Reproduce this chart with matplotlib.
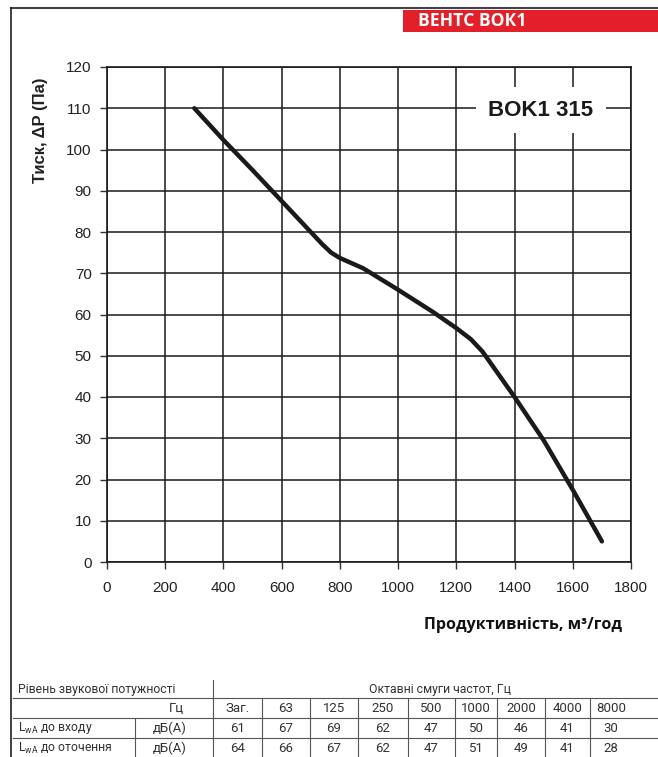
import matplotlib
matplotlib.use("Agg")
import matplotlib.pyplot as plt

# fan curve
airflow = [300, 400, 500, 600, 700, 740, 770, 800, 880, 1000, 1120, 1200, 1250, 1290, 1340, 1400, 1500, 1600, 1700]
pressure = [110, 102.3, 95, 87.5, 80, 77, 75, 73.7, 71.2, 66, 60.6, 56.7, 54, 51, 46, 40, 29.5, 17.5, 5]

x_ticks = [0, 200, 400, 600, 800, 1000, 1200, 1400, 1600, 1800]
y_ticks = list(range(0, 130, 10))

# sound power table
bands = ["Заг.", "63", "125", "250", "500", "1000", "2000", "4000", "8000"]
inlet_db = [61, 67, 69, 62, 47, 50, 46, 41, 30]
ambient_db = [64, 66, 67, 62, 47, 51, 49, 41, 28]

W, H = 658, 757
fig = plt.figure(figsize=(W / 100, H / 100), dpi=100)

# pixel overlay for frame, banner and table
ov = fig.add_axes([0, 0, 1, 1])
ov.set_xlim(0, W)
ov.set_ylim(H, 0)
ov.axis("off")

ov.plot([11, W], [8, 8], color="#444444", lw=1.5)
ov.plot([11, 11], [8, H], color="#222222", lw=1.2)
ov.add_patch(plt.Rectangle((403, 10), W - 403, 22, color="#e3202a", lw=0))
ov.text(418, 21.5, "ВЕНТС ВОК1", color="white", fontsize=12.6, fontweight="bold",
        family="Open Sans", ha="left", va="center")

ov.text(622, 625, "Продуктивність, м³/год", fontsize=11.5, fontweight="bold",
        family="Open Sans", ha="right", va="center", color="#111111")

# table
tcol = "#333333"
lcol = "#555555"
tfont = dict(family="Roboto", fontsize=8.8, color=tcol, va="center")
nfont = dict(family="Roboto", fontsize=9.5, color=tcol, va="center")
seps = [213, 262, 310, 358, 408, 455, 497, 545, 590, 632]
for yy in [698, 718, 738]:
    ov.plot([13, W], [yy, yy], color=lcol, lw=0.8)
ov.plot([213, 213], [680, H], color=lcol, lw=0.8)
for sx in seps[1:-1]:
    ov.plot([sx, sx], [698, H], color=lcol, lw=0.8)
ov.plot([135, 135], [718, H], color=lcol, lw=0.8)

ov.text(18, 689, "Рівень звукової потужності", ha="left", **tfont)
ov.text(440, 689, "Октавні смуги частот, Гц", ha="center", **tfont)
ov.text(176, 708, "Гц", ha="center", **nfont)
ov.text(18, 728, r"L$_{\mathregular{wA}}$ до входу", ha="left", **tfont)
ov.text(18, 748, r"L$_{\mathregular{wA}}$ до оточення", ha="left", **tfont)
ov.text(170, 728, "дБ(А)", ha="center", **nfont)
ov.text(170, 748, "дБ(А)", ha="center", **nfont)
for i, b in enumerate(bands):
    cx = (seps[i] + seps[i + 1]) / 2
    ov.text(cx, 708, b, ha="center", **nfont)
    ov.text(cx, 728, str(inlet_db[i]), ha="center", **nfont)
    ov.text(cx, 748, str(ambient_db[i]), ha="center", **nfont)

# main chart
ax = fig.add_axes([107 / W, (H - 562) / H, 524 / W, 495 / H])
ax.set_xlim(0, 1800)
ax.set_ylim(0, 120)
ax.set_xticks(x_ticks)
ax.set_yticks(y_ticks)
ax.grid(True, color="#1a1a1a", lw=1.1)
ax.set_axisbelow(True)
for s in ax.spines.values():
    s.set_color("#1a1a1a")
    s.set_linewidth(1.2)
ax.tick_params(direction="out", length=5, width=1, color="#333333",
               labelsize=11, labelcolor="#222222", pad=6)
for lab in ax.get_xticklabels() + ax.get_yticklabels():
    lab.set_family("Liberation Sans")
ax.tick_params(axis="x", pad=9)

ax.plot(airflow, pressure, color="#1a1a1a", lw=3.2, solid_capstyle="round",
        solid_joinstyle="round", zorder=3)

ax.text(1490, 109.5, "BOK1 315", fontsize=16, fontweight="bold", family="Liberation Sans",
        ha="center", va="center", color="#1a1a1a", zorder=4,
        bbox=dict(facecolor="white", edgecolor="none", pad=9))

fig.text(40 / W, 1 - 130 / H, "Тиск, ΔP (Па)", rotation=90, fontsize=12,
         fontweight="bold", family="Liberation Sans", ha="center", va="center",
         color="#222222")

fig.savefig("out.png", dpi=100)
